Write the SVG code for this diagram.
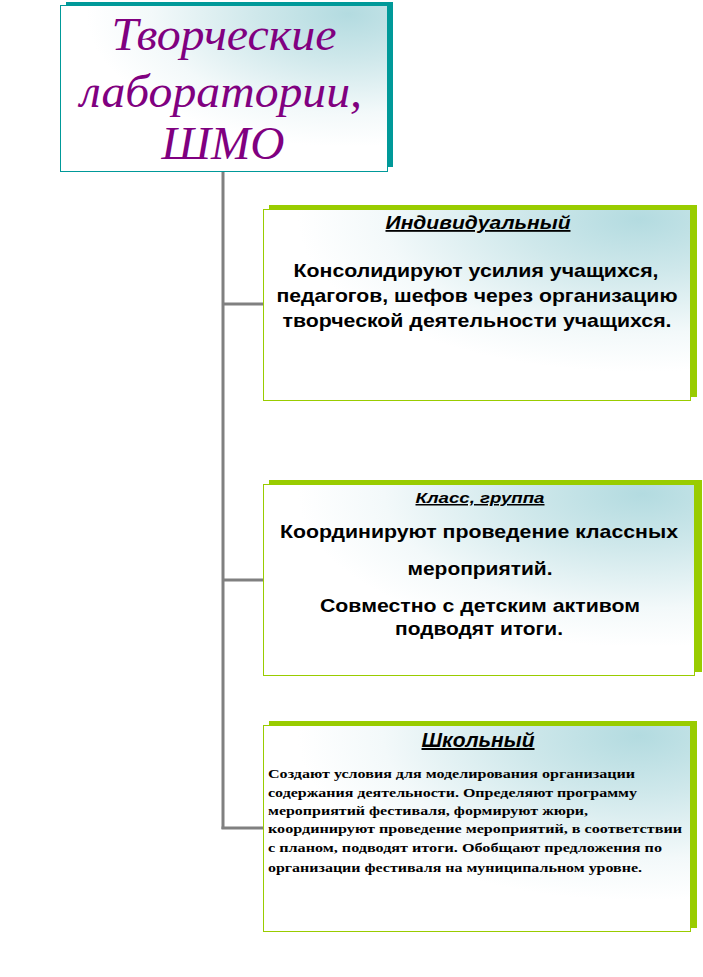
<svg xmlns="http://www.w3.org/2000/svg" width="703" height="977" viewBox="0 0 703 977">
<defs>
<radialGradient id="fill" cx="0.88" cy="0.05" r="0.8" fx="0.88" fy="0.05">
<stop offset="0" stop-color="#b3dbe0"/>
<stop offset="0.35" stop-color="#cfe8eb"/>
<stop offset="0.75" stop-color="#f3f9fa"/>
<stop offset="1" stop-color="#ffffff"/>
</radialGradient>
</defs>
<style>
.conn{stroke:#808080;stroke-width:3;fill:none}
.tbox{fill:url(#fill);stroke:#009999;stroke-width:1}
.tshadow{fill:#009999}
.box{fill:url(#fill);stroke:#99cc00;stroke-width:1}
.shadow{fill:#99cc00}
.title{font-family:"Liberation Serif","Times New Roman",serif;font-style:italic;font-size:46px;fill:#800080;text-anchor:middle}
.head{font-family:"Liberation Sans",Arial,sans-serif;font-style:italic;font-weight:bold;text-decoration:underline;fill:#000;text-anchor:middle}
.body{font-family:"Liberation Sans",Arial,sans-serif;font-weight:bold;font-size:19px;fill:#000;text-anchor:middle}
.small{font-family:"Liberation Serif","Times New Roman",serif;font-weight:bold;font-size:13.5px;fill:#000}
</style>
<rect width="703" height="977" fill="#ffffff"/>
<g id="connectors">
<line class="conn" x1="223" y1="172" x2="223" y2="829"/>
<line class="conn" x1="223" y1="304" x2="263" y2="304"/>
<line class="conn" x1="223" y1="580" x2="263" y2="580"/>
<line class="conn" x1="221.5" y1="828" x2="263" y2="828"/>
</g>
<g id="title">
<rect class="tshadow" x="66" y="2" width="327" height="165"/>
<rect class="tbox" x="60.5" y="5.5" width="327" height="166"/>
<text class="title" x="224" y="50" textLength="225" lengthAdjust="spacingAndGlyphs">Творческие</text>
<text class="title" x="221" y="107" textLength="282" lengthAdjust="spacingAndGlyphs">лаборатории,</text>
<text class="title" x="223" y="159" textLength="123" lengthAdjust="spacingAndGlyphs">ШМО</text>
</g>
<g id="individual">
<rect class="shadow" x="269" y="205" width="428" height="192"/>
<rect class="box" x="263.5" y="209.5" width="427" height="191"/>
<text class="head" x="478" y="229" font-size="18" textLength="185" lengthAdjust="spacingAndGlyphs">Индивидуальный</text>
<text class="body" x="476" y="277" textLength="365" lengthAdjust="spacingAndGlyphs">Консолидируют усилия учащихся,</text>
<text class="body" x="477" y="302" textLength="401" lengthAdjust="spacingAndGlyphs">педагогов, шефов через организацию</text>
<text class="body" x="477" y="327" textLength="389" lengthAdjust="spacingAndGlyphs">творческой деятельности учащихся.</text>
</g>
<g id="class">
<rect class="shadow" x="269" y="480" width="433" height="192"/>
<rect class="box" x="263.5" y="484.5" width="431" height="191"/>
<text class="head" x="480" y="503" font-size="15" textLength="129" lengthAdjust="spacingAndGlyphs">Класс, группа</text>
<text class="body" x="479" y="538" textLength="398" lengthAdjust="spacingAndGlyphs">Координируют проведение классных</text>
<text class="body" x="480" y="575" textLength="145" lengthAdjust="spacingAndGlyphs">мероприятий.</text>
<text class="body" x="480" y="612" textLength="320" lengthAdjust="spacingAndGlyphs">Совместно с детским активом</text>
<text class="body" x="479" y="635" textLength="168" lengthAdjust="spacingAndGlyphs">подводят итоги.</text>
</g>
<g id="school">
<rect class="shadow" x="269" y="721" width="428" height="207"/>
<rect class="box" x="263.5" y="725.5" width="427" height="206"/>
<text class="head" x="478" y="747" font-size="20" textLength="113" lengthAdjust="spacingAndGlyphs">Школьный</text>
<text class="small" x="268" y="778" textLength="367" lengthAdjust="spacingAndGlyphs">Создают условия для моделирования организации</text>
<text class="small" x="268" y="797" textLength="369" lengthAdjust="spacingAndGlyphs">содержания деятельности. Определяют программу</text>
<text class="small" x="268" y="815" textLength="320" lengthAdjust="spacingAndGlyphs">мероприятий фестиваля, формируют жюри,</text>
<text class="small" x="268" y="833" textLength="414" lengthAdjust="spacingAndGlyphs">координируют проведение мероприятий, в соответствии</text>
<text class="small" x="268" y="852" textLength="394" lengthAdjust="spacingAndGlyphs">с планом, подводят итоги. Обобщают предложения по</text>
<text class="small" x="268" y="872" textLength="374" lengthAdjust="spacingAndGlyphs">организации фестиваля на муниципальном уровне.</text>
</g>
</svg>
